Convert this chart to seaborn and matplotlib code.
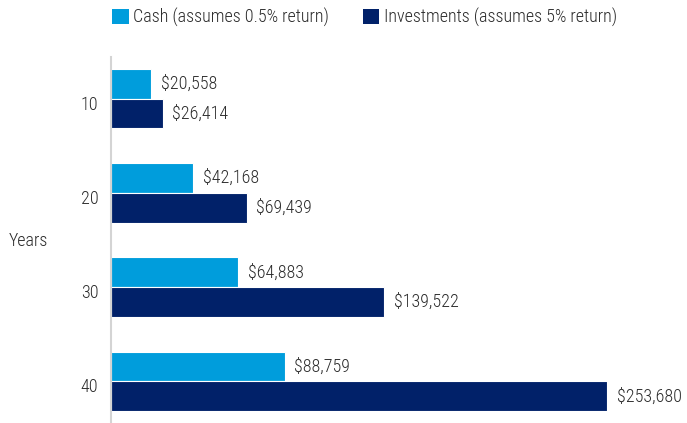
import pandas as pd
import matplotlib
matplotlib.use("Agg")
import matplotlib.pyplot as plt
import matplotlib.transforms as mtransforms
from matplotlib.patches import Patch
import seaborn as sns

# data
years = ["10", "20", "30", "40"]
cash = [20558, 42168, 64883, 88759]
investments = [26414, 69439, 139522, 253680]
series_names = ["Cash (assumes 0.5% return)", "Investments (assumes 5% return)"]
colors = ["#009DDC", "#012169"]

df = pd.DataFrame({
    "Years": years * 2,
    "Value": cash + investments,
    "Series": [series_names[0]] * 4 + [series_names[1]] * 4,
})

sns.set_theme(style="white")
plt.rcParams["font.family"] = ["Roboto Condensed", "DejaVu Sans"]
plt.rcParams["font.weight"] = "light"
text_col = "#2b2b2b"
fs = 13

fig = plt.figure(figsize=(6.87, 4.23), dpi=100)
ax = fig.add_axes([111 / 687, 0, (607 - 111) / 687, (423 - 57) / 423])

sns.barplot(data=df, y="Years", x="Value", hue="Series", palette=colors,
            orient="h", width=0.63, saturation=1, edgecolor="white",
            linewidth=0.8, legend=False, ax=ax)

ax.set_xlim(0, max(investments))
ax.set_ylim(3.44, -0.44)

for container in ax.containers:
    ax.bar_label(container, labels=[f"${v:,.0f}" for v in container.datavalues],
                 padding=7, fontsize=fs, color=text_col, clip_on=False)

for s in ["top", "right", "bottom"]:
    ax.spines[s].set_visible(False)
ax.spines["left"].set_color("#d4d4d4")
ax.spines["left"].set_linewidth(1.5)
ax.set_xticks([])
ax.set_xlabel("")
ax.set_ylabel("")
ax.tick_params(axis="y", length=0, pad=9, labelsize=fs, labelcolor=text_col)
# year labels sit a little below the group centre in the original
shift = mtransforms.ScaledTranslation(0, -4 / 100, fig.dpi_scale_trans)
for lbl in ax.get_yticklabels():
    lbl.set_transform(lbl.get_transform() + shift)

fig.text(9 / 687, 1 - 241 / 423, "Years", fontsize=fs, color=text_col,
         ha="left", va="center")

handles = [Patch(facecolor=c, edgecolor="none") for c in colors]
fig.legend(handles, series_names, loc="center left",
           bbox_to_anchor=(96 / 687, 1 - 17 / 423), ncol=2, frameon=False,
           fontsize=fs, handlelength=0.9, handleheight=0.9, handletextpad=0.25,
           columnspacing=1.9, labelcolor=text_col)

fig.savefig("out.png", dpi=100, facecolor="white")
